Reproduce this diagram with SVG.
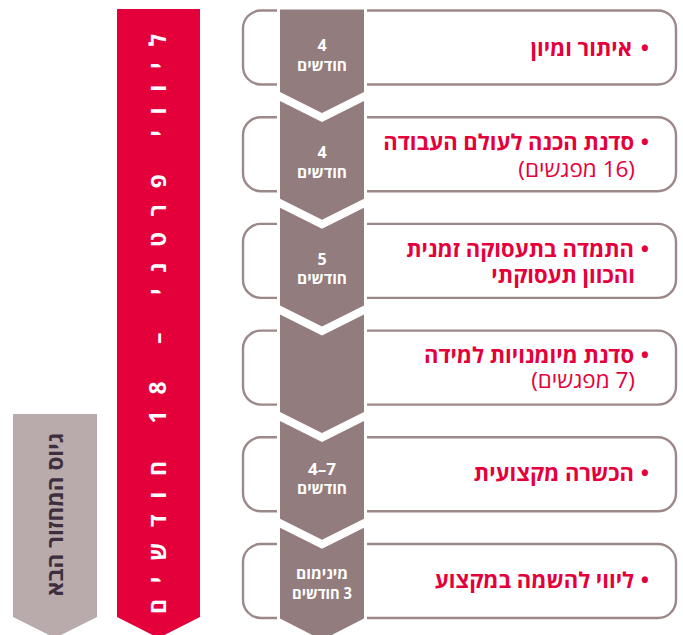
<svg xmlns="http://www.w3.org/2000/svg" width="683" height="635" viewBox="0 0 683 635">
<style>
.box{fill:none;stroke:#9c8889;stroke-width:2.4}
.chev{fill:#927c7d}
.t{font-family:"Open Sans","Liberation Sans","DejaVu Sans",sans-serif;fill:#e4003b;font-size:22px;font-weight:bold}
.t2{font-family:"Open Sans","Liberation Sans","DejaVu Sans",sans-serif;fill:#e4003b;font-size:22.5px;font-weight:normal}
.bul{font-family:"Open Sans","Liberation Sans","DejaVu Sans",sans-serif;fill:#e4003b;font-size:22px;font-weight:bold;text-anchor:middle}
.lb{font-family:"Open Sans","Liberation Sans","DejaVu Sans",sans-serif;fill:#ffffff;font-size:16px;font-weight:bold;text-anchor:middle}
.vt{font-family:"Open Sans","Liberation Sans","DejaVu Sans",sans-serif;font-weight:bold;text-anchor:middle}
</style>
<rect width="683" height="635" fill="#ffffff"/>
<g id="banner-red">
<polygon points="117,9 200,9 200,617 158.5,638 117,617" fill="#e4003b"/>
<text class="vt" transform="translate(166,324) rotate(-90)" direction="rtl" font-size="23" fill="#ffffff" textLength="580" lengthAdjust="spacing">ליווי פרטני – 18 חודשים</text>
</g>
<g id="banner-gray">
<polygon points="13,414 97,414 97,617 55,638 13,617" fill="#b9abab"/>
<text class="vt" transform="translate(63,514.5) rotate(-90)" direction="rtl" font-size="22.5" fill="#3d2f3f">גיוס המחזור הבא</text>
</g>
<g id="connectors">
</g>
<g id="step1">
<path class="box" d="M367,10.5 H658 A18,18 0 0 1 676,28.5 V66.5 A18,18 0 0 1 658,84.5 H367 M277,84.5 H261 A18,18 0 0 1 243,66.5 V28.5 A18,18 0 0 1 261,10.5 H277"/>
<polygon class="chev" points="280,9.5 364,9.5 364,92 322,113 280,92"/>
<text class="lb" x="322" y="50.5">4</text>
<text class="lb" x="322" y="70.5" textLength="50" lengthAdjust="spacingAndGlyphs">חודשים</text>
<text class="bul" x="645" y="56">•</text>
<text class="t" x="632" y="56" direction="rtl">איתור ומיון</text>
</g>
<g id="step2">
<path class="box" d="M367,117.2 H658 A18,18 0 0 1 676,135.2 V173.2 A18,18 0 0 1 658,191.2 H367 M277,191.2 H261 A18,18 0 0 1 243,173.2 V135.2 A18,18 0 0 1 261,117.2 H277"/>
<polygon class="chev" points="280,101 322,122 364,101 364,198.7 322,219.7 280,198.7"/>
<text class="lb" x="322" y="158">4</text>
<text class="lb" x="322" y="177.5" textLength="50" lengthAdjust="spacingAndGlyphs">חודשים</text>
<text class="bul" x="645" y="150">•</text>
<text class="t" x="634" y="150" direction="rtl">סדנת הכנה לעולם העבודה</text>
<text class="t2" x="635" y="176.5" direction="rtl">(16 מפגשים)</text>
</g>
<g id="step3">
<path class="box" d="M367,223.9 H658 A18,18 0 0 1 676,241.9 V279.9 A18,18 0 0 1 658,297.9 H367 M277,297.9 H261 A18,18 0 0 1 243,279.9 V241.9 A18,18 0 0 1 261,223.9 H277"/>
<polygon class="chev" points="280,207.7 322,228.7 364,207.7 364,305.4 322,326.4 280,305.4"/>
<text class="lb" x="322" y="265">5</text>
<text class="lb" x="322" y="283.5" textLength="50" lengthAdjust="spacingAndGlyphs">חודשים</text>
<text class="bul" x="645" y="257">•</text>
<text class="t" x="634" y="257" direction="rtl">התמדה בתעסוקה זמנית</text>
<text class="t" x="635" y="283" direction="rtl">והכוון תעסוקתי</text>
</g>
<g id="step4">
<path class="box" d="M367,330.6 H658 A18,18 0 0 1 676,348.6 V386.6 A18,18 0 0 1 658,404.6 H367 M277,404.6 H261 A18,18 0 0 1 243,386.6 V348.6 A18,18 0 0 1 261,330.6 H277"/>
<polygon class="chev" points="280,314.4 322,335.4 364,314.4 364,412.1 322,433.1 280,412.1"/>
<text class="bul" x="645" y="363">•</text>
<text class="t" x="634" y="363" direction="rtl">סדנת מיומנויות למידה</text>
<text class="t2" x="635" y="388" direction="rtl">(7 מפגשים)</text>
</g>
<g id="step5">
<path class="box" d="M367,437.3 H658 A18,18 0 0 1 676,455.3 V493.3 A18,18 0 0 1 658,511.3 H367 M277,511.3 H261 A18,18 0 0 1 243,493.3 V455.3 A18,18 0 0 1 261,437.3 H277"/>
<polygon class="chev" points="280,421.1 322,442.1 364,421.1 364,518.8 322,539.8 280,518.8"/>
<text class="lb" x="322" y="475" textLength="28" lengthAdjust="spacingAndGlyphs">4–7</text>
<text class="lb" x="322" y="493.5" textLength="50" lengthAdjust="spacingAndGlyphs">חודשים</text>
<text class="bul" x="645" y="481">•</text>
<text class="t" x="634" y="481" direction="rtl">הכשרה מקצועית</text>
</g>
<g id="step6">
<path class="box" d="M367,544 H658 A18,18 0 0 1 676,562 V600 A18,18 0 0 1 658,618 H367 M277,618 H261 A18,18 0 0 1 243,600 V562 A18,18 0 0 1 261,544 H277"/>
<polygon class="chev" points="280,527.8 322,548.8 364,527.8 364,618.5 322,640 280,618.5"/>
<text class="lb" x="322" y="578.5" textLength="52" lengthAdjust="spacingAndGlyphs">מינימום</text>
<text class="lb" x="322" y="598.5" direction="rtl" textLength="60" lengthAdjust="spacingAndGlyphs">3 חודשים</text>
<text class="bul" x="645" y="588">•</text>
<text class="t" x="634" y="588" direction="rtl">ליווי להשמה במקצוע</text>
</g>
</svg>
